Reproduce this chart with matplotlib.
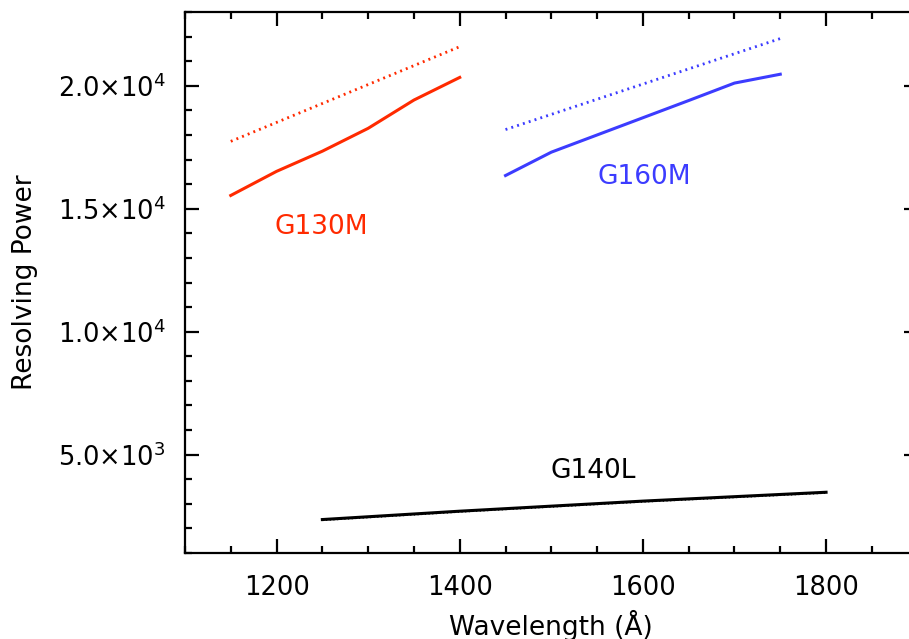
import matplotlib
matplotlib.use("Agg")
import matplotlib.pyplot as plt
from matplotlib.ticker import MultipleLocator, FuncFormatter

# G130M
g130m_wave = [1150, 1200, 1250, 1300, 1350, 1400]
g130m_res = [15540, 16520, 17340, 18270, 19420, 20340]
g130m_wave_pred = [1150, 1400]
g130m_res_pred = [17740, 21590]

# G160M
g160m_wave = [1450, 1500, 1550, 1600, 1650, 1700, 1750]
g160m_res = [16350, 17300, 18000, 18700, 19400, 20110, 20470]
g160m_wave_pred = [1450, 1750]
g160m_res_pred = [18220, 21920]

# G140L
g140l_wave = [1250, 1400, 1600, 1800]
g140l_res = [2360, 2700, 3110, 3470]
g140l_res_pred = [2330, 2670, 3080, 3440]

red = "#ff2a00"
blue = "#3c3cff"

plt.rcParams['font.family'] = ['DejaVu Sans']

fig = plt.figure(figsize=(9.09, 6.39), dpi=100)
ax = fig.add_axes([0.2035, 0.1346, 0.806, 0.8466])

dot = (0, (0.7, 1.5))
ax.plot(g130m_wave, g130m_res, color=red, lw=2.2)
ax.plot(g130m_wave_pred, g130m_res_pred, color=red, lw=2.0, linestyle=dot)
ax.plot(g160m_wave, g160m_res, color=blue, lw=2.2)
ax.plot(g160m_wave_pred, g160m_res_pred, color=blue, lw=2.0, linestyle=dot)
ax.plot(g140l_wave, g140l_res_pred, color="black", lw=1.2, linestyle=dot)
ax.plot(g140l_wave, g140l_res, color="black", lw=2.2)

ax.text(1198, 14240, "G130M", color=red, fontsize=19, va="center")
ax.text(1550, 16310, "G160M", color=blue, fontsize=19, va="center")
ax.text(1499, 4350, "G140L", color="black", fontsize=19, va="center")

ax.set_xlim(1100, 1900)
ax.set_ylim(1000, 23000)
ax.xaxis.set_major_locator(MultipleLocator(200))
ax.xaxis.set_minor_locator(MultipleLocator(50))
ax.yaxis.set_major_locator(MultipleLocator(5000))
ax.yaxis.set_minor_locator(MultipleLocator(1000))


def sci(v, pos):
    if v <= 0:
        return ""
    exp = len(str(int(v))) - 1
    mant = v / 10 ** exp
    return r"%.1f$\times$10$^{%d}$" % (mant, exp)


ax.yaxis.set_major_formatter(FuncFormatter(sci))

for s in ax.spines.values():
    s.set_linewidth(1.6)
ax.tick_params(which="both", direction="in", top=True, right=True, width=1.6, labelsize=18.5)
ax.tick_params(which="major", length=10)
ax.tick_params(which="minor", length=5)
ax.tick_params(axis="x", pad=16)
ax.tick_params(axis="y", pad=14)

ax.set_xlabel("Wavelength (Å)", fontsize=19, labelpad=6)
ax.set_ylabel("Resolving Power", fontsize=19, labelpad=14)

fig.savefig("out.png", dpi=100)
